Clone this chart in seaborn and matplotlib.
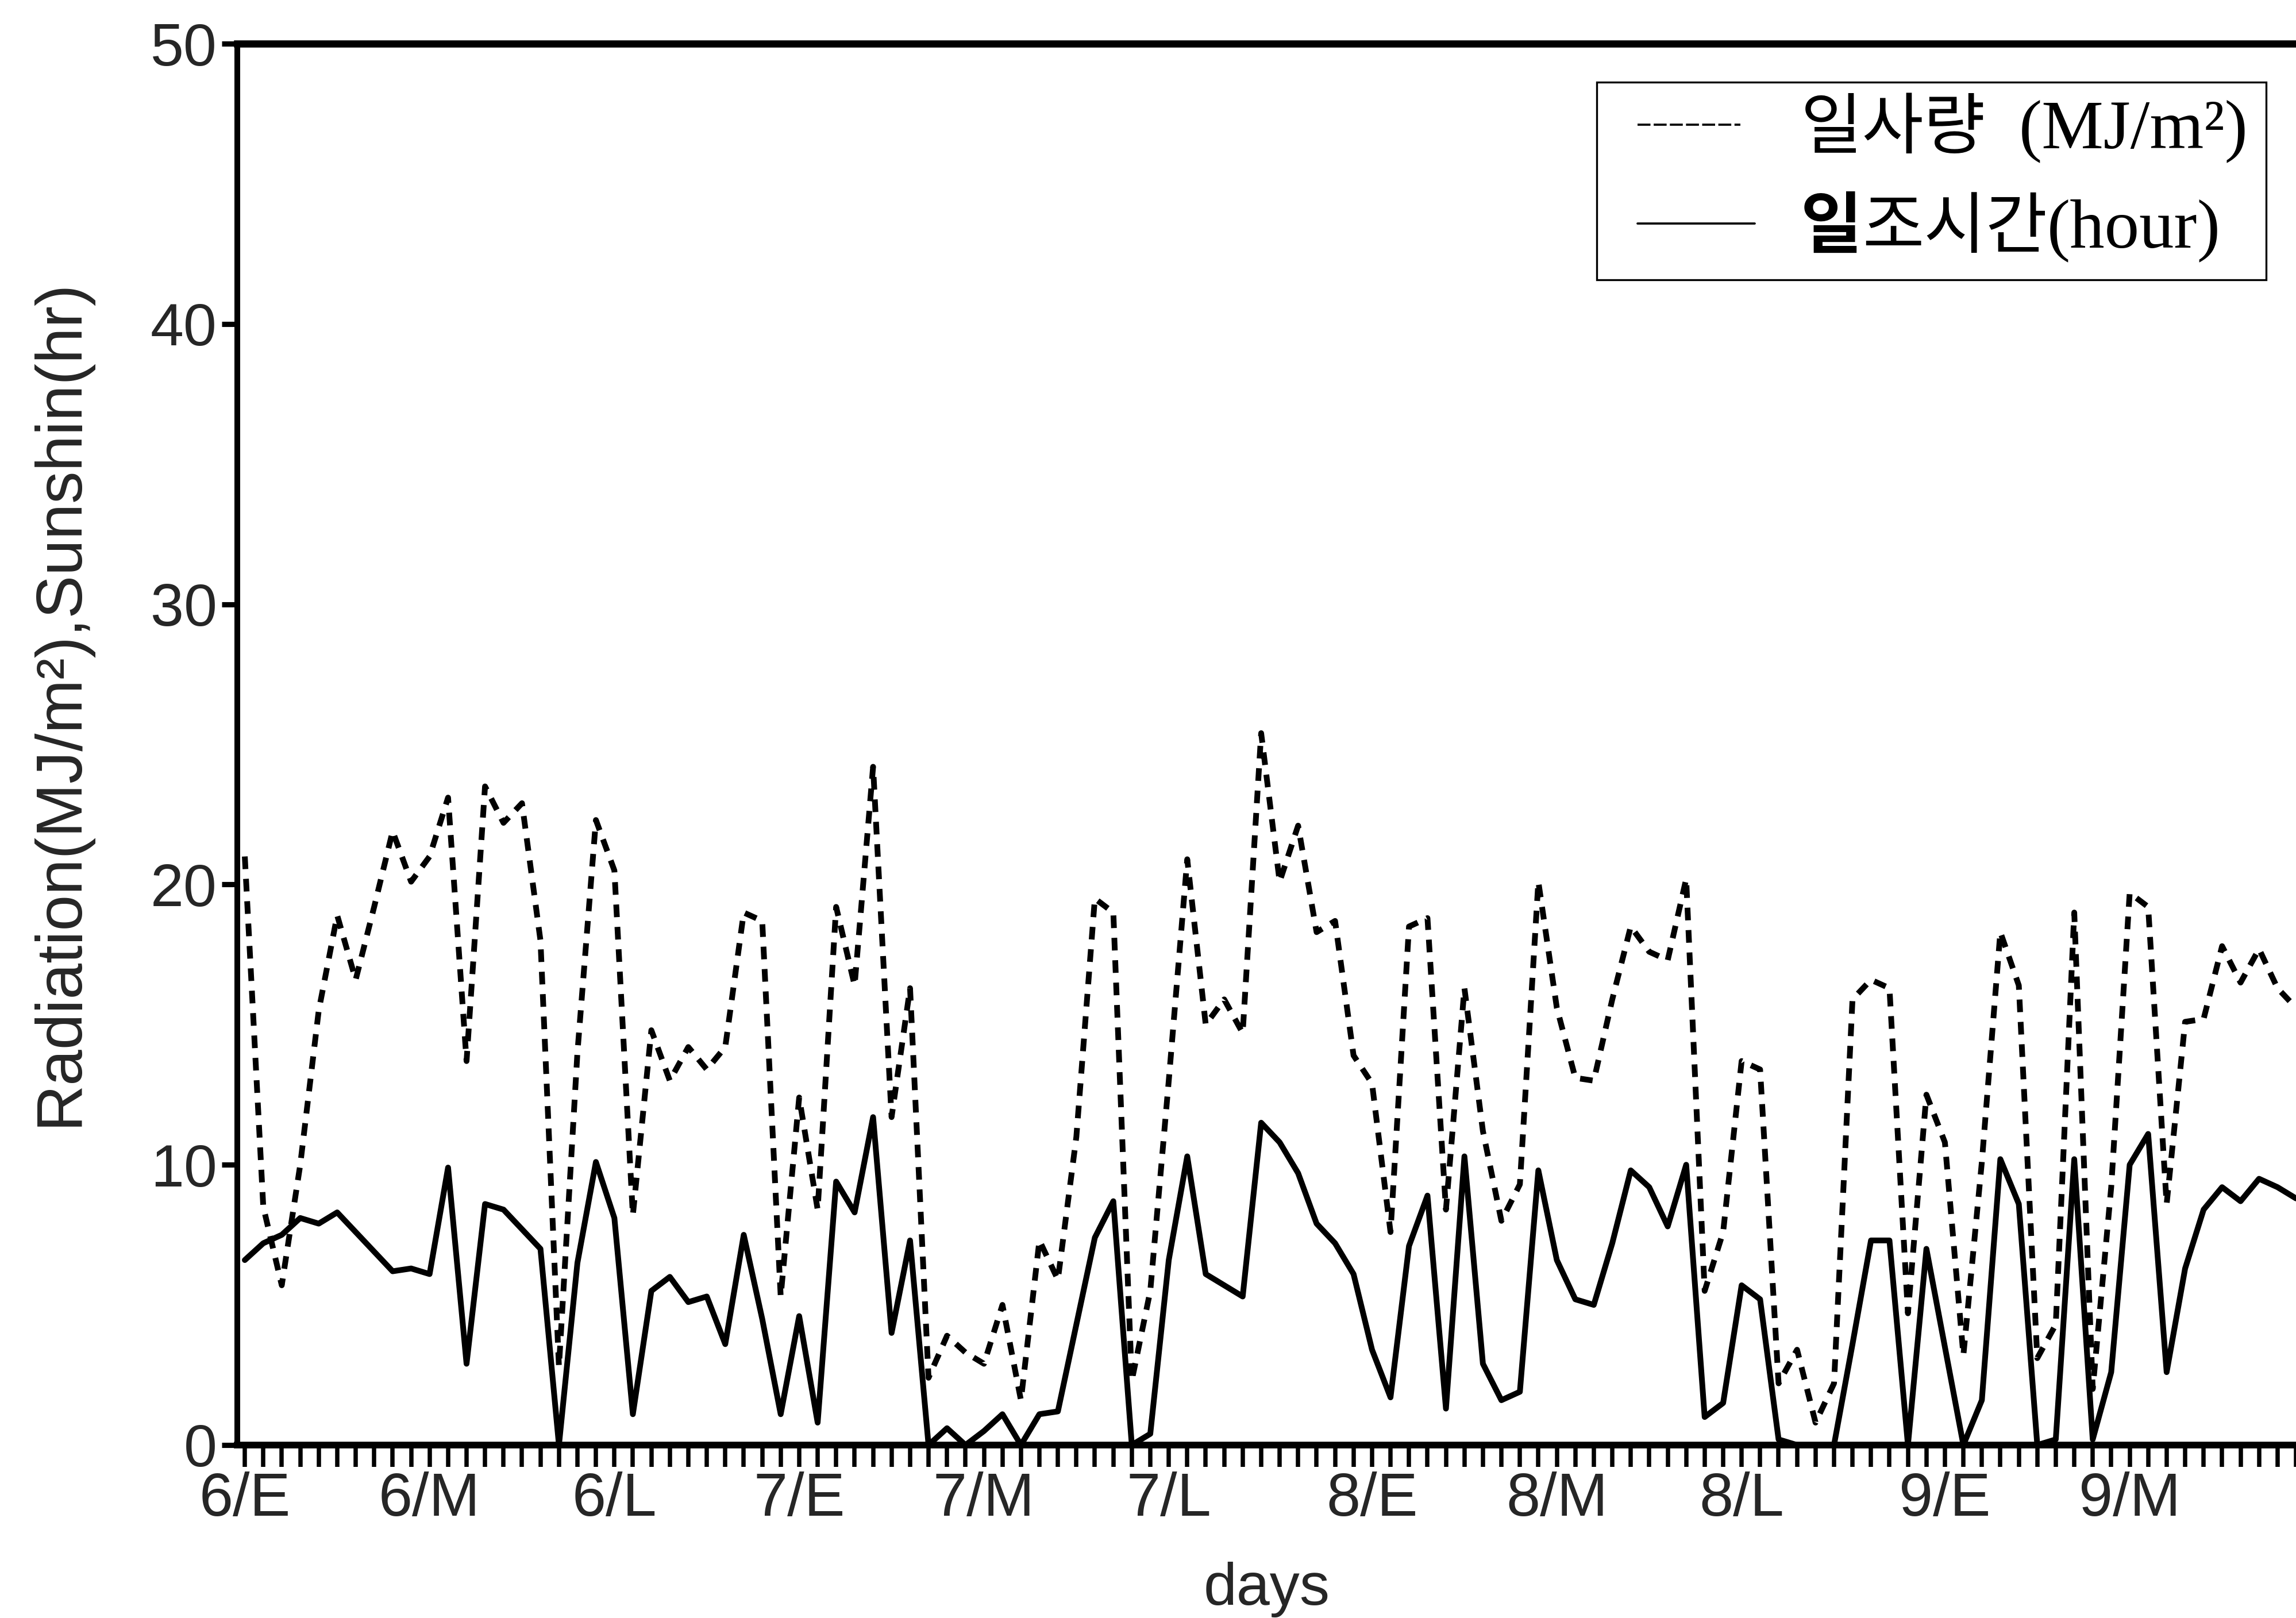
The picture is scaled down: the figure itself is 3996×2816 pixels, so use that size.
import numpy as np
import pandas as pd
import matplotlib
matplotlib.use("Agg")
import matplotlib.pyplot as plt
from matplotlib.lines import Line2D
from matplotlib.offsetbox import (AnchoredOffsetbox, VPacker, HPacker,
                                  TextArea, DrawingArea)
import seaborn as sns

# Daily solar radiation (MJ/m2) and sunshine duration (hour), 1 June onwards
radiation = [
    21.0, 8.5, 5.7, 10.0, 15.5, 18.9, 16.6, 19.2, 21.9, 20.1,
    21.0, 23.1, 13.7, 23.5, 22.2, 22.9, 18.0, 2.8, 14.0, 22.3,
    20.5, 8.2, 14.8, 13.0, 14.2, 13.4, 14.2, 19.0, 18.7, 5.3,
    12.4, 8.4, 19.2, 16.4, 24.2, 11.7, 16.3, 2.4, 3.9, 3.3,
    2.9, 5.0, 1.6, 7.3, 5.9, 11.0, 19.5, 19.0, 2.3, 5.5,
    13.0, 20.9, 15.0, 15.9, 14.7, 25.4, 20.1, 22.1, 18.3, 18.7,
    13.9, 12.9, 7.6, 18.5, 18.8, 8.4, 16.3, 11.2, 8.0, 9.3,
    20.1, 15.6, 13.1, 13.0, 15.9, 18.5, 17.6, 17.3, 20.2, 5.5,
    7.6, 13.7, 13.4, 2.2, 3.4, 0.8, 2.2, 15.9, 16.6, 16.3,
    4.7, 12.5, 10.8, 3.2, 10.1, 18.3, 16.4, 3.1, 4.3, 19.0,
    2.0, 9.2, 19.7, 19.2, 8.6, 15.1, 15.2, 17.8, 16.5, 17.7,
    16.3, 15.6,
]
sunshine = [
    6.6, 7.2, 7.5, 8.1, 7.9, 8.3, 7.6, 6.9, 6.2, 6.3,
    6.1, 9.9, 2.9, 8.6, 8.4, 7.7, 7.0, 0.0, 6.5, 10.1,
    8.1, 1.1, 5.5, 6.0, 5.1, 5.3, 3.6, 7.5, 4.5, 1.1,
    4.6, 0.8, 9.4, 8.3, 11.7, 4.0, 7.3, 0.0, 0.6, 0.0,
    0.5, 1.1, 0.0, 1.1, 1.2, 4.3, 7.4, 8.7, 0.0, 0.4,
    6.6, 10.3, 6.1, 5.7, 5.3, 11.5, 10.8, 9.7, 7.9, 7.2,
    6.1, 3.4, 1.7, 7.1, 8.9, 1.3, 10.3, 2.9, 1.6, 1.9,
    9.8, 6.6, 5.2, 5.0, 7.2, 9.8, 9.2, 7.8, 10.0, 1.0,
    1.5, 5.7, 5.2, 0.2, 0.0, 0.0, 0.0, 3.6, 7.3, 7.3,
    0.0, 7.0, 3.5, 0.0, 1.6, 10.2, 8.6, 0.0, 0.2, 10.2,
    0.2, 2.6, 10.0, 11.1, 2.6, 6.3, 8.4, 9.2, 8.7, 9.5,
    9.2, 8.8,
]
period_labels = ["6/E", "6/M", "6/L", "7/E", "7/M", "7/L",
                 "8/E", "8/M", "8/L", "9/E", "9/M"]
period_start_day = [0, 10, 20, 30, 40, 50, 61, 71, 81, 92, 102]
y_ticks = [0, 10, 20, 30, 40, 50]

days = np.arange(len(radiation))
df = pd.DataFrame({"day": days, "radiation": radiation, "sunshine": sunshine})

sns.set_style("ticks")
plt.rcParams["font.family"] = ["Liberation Sans", "DejaVu Sans"]

fig = plt.figure(figsize=(13.32, 9.3867), dpi=300)
ax = fig.add_axes([0.1034, 0.1069, 0.8966, 0.8661])

sns.lineplot(data=df, x="day", y="radiation", ax=ax, color="black",
             lw=2.4, linestyle=(0, (2.2, 1.7)), estimator=None, errorbar=None)
sns.lineplot(data=df, x="day", y="sunshine", ax=ax, color="black",
             lw=2.4, estimator=None, errorbar=None)

ax.set_xlim(-0.4, 110.95)
ax.set_ylim(0, 50)

ax.spines["left"].set_linewidth(2.4)
ax.spines["bottom"].set_linewidth(2.8)
ax.spines["top"].set_linewidth(3.0)
for side in ("left", "bottom", "top"):
    ax.spines[side].set_color("black")
ax.spines["right"].set_visible(False)

ax.set_xticks(period_start_day)
ax.set_xticklabels(period_labels)
ax.set_xticks(days, minor=True)
ax.set_yticks(y_ticks)
ax.tick_params(axis="x", which="both", direction="out", length=9,
               width=1.8, color="black", labelsize=25.5, pad=2)
ax.tick_params(axis="y", which="major", direction="out", length=6.5,
               width=2.2, color="black", labelsize=25, pad=2)
ax.tick_params(axis="y", which="minor", length=0)

ax.set_xlabel("days", fontsize=25, labelpad=14)
ax.set_ylabel("Radiation(MJ/m²),Sunshin(hr)", fontsize=27)
ax.yaxis.set_label_coords(-0.0712, 0.53)

# Legend box built from packed text areas (Korean and Latin parts sized separately)
kor_font = dict(fontfamily=["Noto Sans CJK KR", "DejaVu Sans"], fontsize=28, color="black")
kor_bold = dict(kor_font, fontweight="bold")
lat_font = dict(fontfamily=["Liberation Serif", "DejaVu Serif"], fontsize=29, color="black")


def sample_line(x_end, dashes=None):
    area = DrawingArea(79.5, 24, 0, 8)
    ln = Line2D([11.5, x_end], [10, 10], color="black", lw=0.9)
    if dashes is not None:
        ln.set_dashes(dashes)
    area.add_artist(ln)
    return area


row_radiation = HPacker(children=[
    sample_line(54.5, dashes=(6, 1.5)),
    HPacker(children=[TextArea("일사량", textprops=kor_font),
                      TextArea("(MJ/m²)", textprops=lat_font)],
            sep=14, pad=0, align="baseline"),
    DrawingArea(2, 1),
], sep=0, pad=0, align="baseline")

row_sunshine = HPacker(children=[
    sample_line(60.5),
    HPacker(children=[TextArea("일", textprops=kor_bold),
                      TextArea("조시간", textprops=kor_font),
                      TextArea("(hour)", textprops=lat_font)],
            sep=0, pad=0, align="baseline"),
], sep=0, pad=0, align="baseline")

legend_box = AnchoredOffsetbox(
    loc="upper right",
    child=VPacker(children=[row_radiation, row_sunshine], align="left", sep=11, pad=0),
    pad=0.55, borderpad=0, frameon=True, prop=dict(size=10),
    bbox_to_anchor=(0.98699, 0.94922), bbox_transform=fig.transFigure,
)
legend_box.patch.set_edgecolor("black")
legend_box.patch.set_facecolor("white")
legend_box.patch.set_linewidth(0.8)
ax.add_artist(legend_box)

fig.savefig("out.png", dpi=300)
